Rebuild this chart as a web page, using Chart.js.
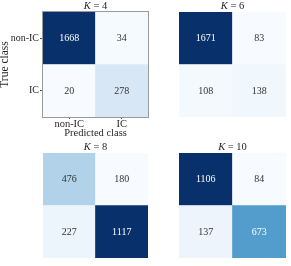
<!DOCTYPE html>
<html><head><meta charset="utf-8">
<script src="https://cdn.jsdelivr.net/npm/chart.js@4/dist/chart.umd.min.js"></script>
<style>
html,body{margin:0;padding:0;background:#fff;}
#wrap{position:relative;width:291px;height:266px;}
.c{position:absolute;}
</style></head><body>
<div id="wrap">
<div class="c" style="left:0;top:0;width:150px;height:140px"><canvas id="c0"></canvas></div>
<div class="c" style="left:150px;top:0;width:141px;height:140px"><canvas id="c1"></canvas></div>
<div class="c" style="left:0;top:140px;width:150px;height:126px"><canvas id="c2"></canvas></div>
<div class="c" style="left:150px;top:140px;width:141px;height:126px"><canvas id="c3"></canvas></div>
</div>
<script>
// Data
const classes = ['non-IC', 'IC'];
const kValues = [4, 6, 8, 10];
// rows: true class (non-IC, IC); columns: predicted class (non-IC, IC)
const cmK4  = [[1668, 34], [20, 278]];
const cmK6  = [[1671, 83], [108, 138]];
const cmK8  = [[476, 180], [227, 1117]];
const cmK10 = [[1106, 84], [137, 673]];
const matrices = [cmK4, cmK6, cmK8, cmK10];

const FONT = "'Liberation Serif', 'DejaVu Serif', serif";
const BLUES = ['#f7fbff','#deebf7','#c6dbef','#9ecae1','#6baed6','#4292c6','#2171b5','#08519c','#08306b'];
function hex(h){return [parseInt(h.slice(1,3),16),parseInt(h.slice(3,5),16),parseInt(h.slice(5,7),16)];}
function blues(t){
  t=Math.max(0,Math.min(1,t));
  const p=t*(BLUES.length-1), i=Math.min(Math.floor(p),BLUES.length-2), f=p-i;
  const a=hex(BLUES[i]), b=hex(BLUES[i+1]);
  return a.map((v,k)=>Math.round(v+(b[k]-v)*f));
}
function lum(rgb){
  const c=rgb.map(v=>{v/=255;return v<=0.03928?v/12.92:Math.pow((v+0.055)/1.055,2.4);});
  return 0.2126*c[0]+0.7152*c[1]+0.0722*c[2];
}

const layouts = [
  {pad:{left:0,right:2,top:12,bottom:0}, axes:true},
  {pad:{left:29,right:5,top:12,bottom:23}, axes:false},
  {pad:{left:43,right:2,top:13,bottom:8}, axes:false},
  {pad:{left:29,right:5,top:13,bottom:8}, axes:false}
];

matrices.forEach((m, idx) => {
  const flat = m.flat();
  const mn = Math.min(...flat), mx = Math.max(...flat);
  const col = v => blues((v-mn)/(mx-mn));
  const rgbStr = c => `rgb(${c[0]},${c[1]},${c[2]})`;
  // stacked: dataset 0 = bottom row (IC), dataset 1 = top row (non-IC)
  const rowsBottomUp = [1, 0];
  const datasets = rowsBottomUp.map(r => ({
    label: classes[r],
    data: classes.map(() => 1),
    counts: m[r],
    backgroundColor: m[r].map(v => rgbStr(col(v))),
    textColor: m[r].map(v => lum(col(v)) > 0.408 ? '#333333' : '#ffffff'),
    borderWidth: 0,
    barPercentage: 1.0,
    categoryPercentage: 1.0
  }));
  const L = layouts[idx];
  const cellText = {
    id: 'cellText',
    afterDatasetsDraw(chart) {
      const ctx = chart.ctx;
      ctx.save();
      ctx.font = `10px ${FONT}`;
      ctx.textAlign = 'center';
      ctx.textBaseline = 'middle';
      chart.data.datasets.forEach((ds, di) => {
        chart.getDatasetMeta(di).data.forEach((bar, i) => {
          ctx.fillStyle = ds.textColor[i];
          ctx.fillText(String(ds.counts[i]), bar.x, (bar.y + bar.base) / 2 + 0.5);
        });
      });
      // title K = n
      const a = chart.chartArea;
      const cx = (a.left + a.right) / 2, cy = a.top - 6;
      ctx.fillStyle = '#262626';
      ctx.font = `italic 10.5px ${FONT}`;
      const w1 = ctx.measureText('K').width;
      ctx.font = `10.5px ${FONT}`;
      const rest = ' = ' + kValues[idx];
      const w2 = ctx.measureText(rest).width;
      const x0 = cx - (w1 + w2) / 2;
      ctx.textAlign = 'left';
      ctx.font = `italic 10.5px ${FONT}`;
      ctx.fillText('K', x0, cy);
      ctx.font = `10.5px ${FONT}`;
      ctx.fillText(rest, x0 + w1, cy);
      if (L.axes) {
        ctx.strokeStyle = '#9a9a9a';
        ctx.lineWidth = 1;
        ctx.strokeRect(Math.round(a.left) - 0.5, Math.round(a.top) - 0.5, Math.round(a.right - a.left) + 1, Math.round(a.bottom - a.top) + 1);
      }
      ctx.restore();
    }
  };
  new Chart(document.getElementById('c' + idx), {
    type: 'bar',
    data: { labels: classes, datasets },
    options: {
      responsive: true,
      maintainAspectRatio: false,
      animation: false,
      events: [],
      layout: { padding: L.pad },
      plugins: { legend: { display: false }, tooltip: { enabled: false }, title: { display: false } },
      scales: {
        x: {
          display: L.axes,
          stacked: true,
          offset: true,
          grid: { display: true, drawOnChartArea: false, offset: false, tickLength: 2, color: '#555' },
          border: { display: false },
          ticks: { color: '#262626', font: { family: FONT, size: 10.5 }, padding: -1, maxRotation: 0 },
          title: { display: L.axes, text: 'Predicted class', color: '#262626', font: { family: FONT, size: 10.5 }, padding: { top: 0, bottom: 0.5 } },
          afterFit(s) { if (L.axes) s.height = 23; }
        },
        y: {
          display: L.axes,
          stacked: true,
          min: 0, max: 2,
          grid: { display: true, drawOnChartArea: false, tickLength: 3, color: '#555' },
          border: { display: false },
          afterBuildTicks(s) { s.ticks = [{ value: 0.5 }, { value: 1.5 }]; },
          ticks: {
            color: '#262626', font: { family: FONT, size: 10 }, padding: 1,
            callback: v => v === 1.5 ? classes[0] : classes[1]
          },
          title: { display: L.axes, text: 'True class', color: '#262626', font: { family: FONT, size: 11.5 }, padding: { top: -1.5, bottom: 0 } },
          afterFit(s) { if (L.axes) s.width = 43; }
        }
      }
    },
    plugins: [cellText]
  });
});
</script>
</body></html>
